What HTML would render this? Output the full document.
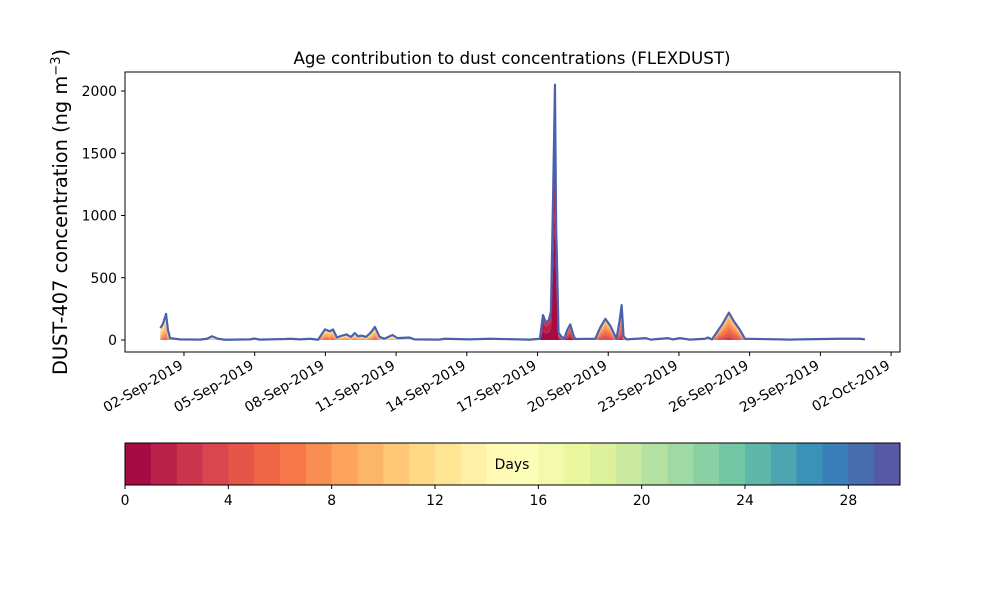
<!DOCTYPE html>
<html><head><meta charset="utf-8">
<style>
html,body{margin:0;padding:0;background:#fff;}
svg text{font-family:"DejaVu Sans","Liberation Sans",sans-serif;fill:#000;}
</style></head>
<body>
<svg id="chart" width="1000" height="600" viewBox="0 0 1000 600" xmlns="http://www.w3.org/2000/svg">
<rect x="0" y="0" width="1000" height="600" fill="#fff"/>
<text x="512" y="64" font-size="16.7" text-anchor="middle">Age contribution to dust concentrations (FLEXDUST)</text>
<text transform="translate(67,212) rotate(-90)" font-size="19.4" text-anchor="middle">DUST-407 concentration (ng m<tspan baseline-shift="super" font-size="13">−3</tspan>)</text>
<g id="plot"></g>
<g id="cbar"></g>
</svg>
<script>
// data: time in days since 01-Sep-2019 00:00, total concentration, dominant age (days)
const times = [0,0.11,0.24,0.32,0.41,0.83,1.68,1.98,2.19,2.44,2.74,3.8,4.0,4.2,5.28,5.5,5.92,6.35,6.69,6.98,7.19,7.32,7.49,7.7,7.9,8.08,8.25,8.38,8.55,8.72,8.93,9.1,9.3,9.5,9.85,10.06,10.57,10.78,11.85,12.06,13.1,13.98,15.68,16.1,16.23,16.36,16.48,16.57,16.66,16.74,16.79,16.83,16.89,17.0,17.13,17.26,17.39,17.52,17.6,18.45,18.66,18.88,19.1,19.35,19.48,19.57,19.65,19.78,20.6,20.8,21.54,21.75,22.04,22.46,23.1,23.23,23.4,23.82,24.12,24.33,24.59,24.8,26.28,26.7,27.13,28.83,29.68,29.89];
const totals = [95,130,210,80,15,5,3,10,30,10,2,5,12,3,8,10,5,10,2,85,70,85,20,35,45,25,55,30,35,25,60,105,25,10,40,15,20,5,3,10,5,10,3,10,200,140,160,230,1150,2050,900,600,60,30,10,80,125,40,8,10,100,170,110,10,150,280,30,5,15,3,15,5,15,3,10,20,5,120,220,150,80,10,5,3,5,10,10,5];
const ages = [10,10,10,10,12,14,14,12,12,12,14,14,14,14,14,14,14,14,14,9,9,9,10,10,10,10,10,10,10,10,10,9,10,12,12,12,12,14,14,14,14,14,14,8,1,1,1,1,0.5,0.5,0.5,0.5,2,3,3,3,3,3,4,8,7,7,7,8,6,6,6,8,14,14,14,14,14,14,12,12,12,7,7,7,8,10,14,14,14,14,14,14];
const yTicks = [0,500,1000,1500,2000];
const xTickLabels = ["02-Sep-2019","05-Sep-2019","08-Sep-2019","11-Sep-2019","14-Sep-2019","17-Sep-2019","20-Sep-2019","23-Sep-2019","26-Sep-2019","29-Sep-2019","02-Oct-2019"];
const xTickDays = [1,4,7,10,13,16,19,22,25,28,31];
const cbarTicks = [0,4,8,12,16,20,24,28];
const nBins = 30;

const NS="http://www.w3.org/2000/svg";
const PL=125,PR=900,PT=72,PB=352;
const xs = d => 160.4 + d*23.57;
const ys = v => 340 - v*62.25/500;

const anchors=["#9e0142","#d53e4f","#f46d43","#fdae61","#fee08b","#ffffbf","#e6f598","#abdda4","#66c2a5","#3288bd","#5e4fa2"];
function hex(h){return [1,3,5].map(i=>parseInt(h.substr(i,2),16));}
function spectral(f){const p=f*10,i=Math.min(9,Math.floor(p)),t=p-i;const a=hex(anchors[i]),b=hex(anchors[i+1]);
 return "rgb("+a.map((c,k)=>Math.round(c+(b[k]-c)*t)).join(",")+")";}
const colors=[];for(let i=0;i<nBins;i++)colors.push(spectral((i+0.5)/nBins));

function mk(tag,attrs,parent){const e=document.createElementNS(NS,tag);for(const k in attrs)e.setAttribute(k,attrs[k]);parent.appendChild(e);return e;}
const plot=document.getElementById("plot");
const cbar=document.getElementById("cbar");

const cum=times.map((t,i)=>{const w=[];let s=0;const sig=ages[i]<2?1.2:3;
 for(let k=0;k<nBins;k++){const v=Math.exp(-Math.pow((k+0.5-ages[i])/sig,2)/2);w.push(v);s+=v;}
 const c=[0];let acc=0;for(let k=0;k<nBins;k++){acc+=w[k]/s*totals[i];c.push(acc);}return c;});

for(let k=0;k<nBins;k++){
 let top=times.map((t,i)=>xs(t).toFixed(2)+","+ys(cum[i][k+1]).toFixed(2));
 let bot=times.map((t,i)=>xs(t).toFixed(2)+","+ys(cum[i][k]).toFixed(2)).reverse();
 const p=mk("polygon",{points:top.concat(bot).join(" "),fill:colors[k],stroke:"none"},plot);
 
 
}
const line=mk("polyline",{points:times.map((t,i)=>xs(t).toFixed(2)+","+ys(totals[i]).toFixed(2)).join(" "),fill:"none",stroke:"#4a62ad","stroke-width":2.2,"stroke-linejoin":"round"},plot);



const frame=mk("rect",{x:PL,y:PT,width:PR-PL,height:PB-PT,fill:"none",stroke:"#000","stroke-width":1},plot);



yTicks.forEach(v=>{const y=ys(v);
 mk("line",{x1:PL-4,x2:PL,y1:y,y2:y,stroke:"#000"},plot);
 const t=mk("text",{x:PL-8,y:y+5,"font-size":13.9,"text-anchor":"end"},plot);t.textContent=v;
 
 
});
xTickDays.forEach((d,i)=>{const x=xs(d);
 mk("line",{x1:x,x2:x,y1:PB,y2:PB+4,stroke:"#000"},plot);
 const t=mk("text",{transform:"translate("+(x)+","+(PB+16)+") rotate(-30)","font-size":13.9,"text-anchor":"end"},plot);t.textContent=xTickLabels[i];
 
 
});

const CL=125,CR=900,CT=443,CB=485,cw=(CR-CL)/nBins;
for(let k=0;k<nBins;k++){const r=mk("rect",{x:CL+k*cw,y:CT,width:cw+0.5,height:CB-CT,fill:colors[k]},cbar);
 
 }
mk("rect",{x:CL,y:CT,width:CR-CL,height:CB-CT,fill:"none",stroke:"#000"},cbar);
cbarTicks.forEach(v=>{const x=CL+v*cw;
 mk("line",{x1:x,x2:x,y1:CB,y2:CB+4,stroke:"#000"},cbar);
 const t=mk("text",{x:x,y:CB+20,"font-size":13.9,"text-anchor":"middle"},cbar);t.textContent=v;
 
 });
const dl=mk("text",{x:512,y:469,"font-size":13.9,"text-anchor":"middle"},cbar);dl.textContent="Days";


</script>
</body></html>
